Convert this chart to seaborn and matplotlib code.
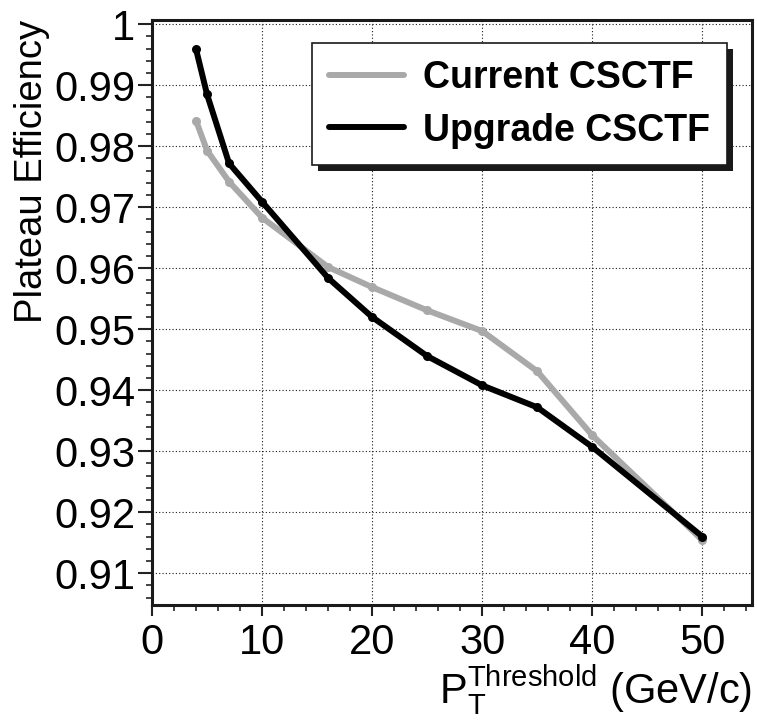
import pandas as pd
import numpy as np
import matplotlib.pyplot as plt
import matplotlib.ticker as mticker
from matplotlib.lines import Line2D
from matplotlib.patches import Rectangle
import seaborn as sns

# pT thresholds (GeV/c) and plateau efficiencies
pt_threshold = [4, 5, 7, 10, 16, 20, 25, 30, 35, 40, 50]
current_eff = [0.9842, 0.9793, 0.9742, 0.9683, 0.9602, 0.9569, 0.9531, 0.9497, 0.9431, 0.9326, 0.9154]
upgrade_eff = [0.9959, 0.9885, 0.9772, 0.9709, 0.9584, 0.9520, 0.9456, 0.9408, 0.9372, 0.9307, 0.9160]
series_names = ['Current CSCTF', 'Upgrade CSCTF']
series_colors = ['#a9a9a9', '#000000']

df = pd.DataFrame({
    'pt': pt_threshold * 2,
    'eff': current_eff + upgrade_eff,
    'algo': [series_names[0]] * len(pt_threshold) + [series_names[1]] * len(pt_threshold),
})

sns.set_theme(style='ticks')
plt.rcParams['font.family'] = ['Liberation Sans', 'DejaVu Sans']
plt.rcParams['mathtext.default'] = 'regular'
plt.rcParams['text.color'] = 'black'
plt.rcParams['axes.labelcolor'] = 'black'

fig = plt.figure(figsize=(7.57, 7.2), dpi=100)
ax = fig.add_axes([0.2008, 0.1597, 0.7926, 0.8125])

sns.lineplot(data=df, x='pt', y='eff', hue='algo', hue_order=series_names,
             palette=dict(zip(series_names, series_colors)),
             marker='o', markersize=6.5, markeredgewidth=0, linewidth=4.3,
             legend=False, ax=ax)

ax.set_xlim(0, 54.5)
ax.set_ylim(0.9048, 1.0007)

ax.xaxis.set_major_locator(mticker.MultipleLocator(10))
ax.xaxis.set_minor_locator(mticker.MultipleLocator(2))
ax.yaxis.set_major_locator(mticker.MultipleLocator(0.01))
ax.yaxis.set_minor_locator(mticker.MultipleLocator(0.002))
ax.yaxis.set_major_formatter(mticker.FuncFormatter(lambda v, p: '%g' % round(v, 3)))

ax.tick_params(axis='both', which='major', width=1.5, direction='out',
               labelsize=30, color='#222222', labelcolor='black')
ax.tick_params(axis='x', which='major', length=8, pad=5)
ax.tick_params(axis='y', which='major', length=10, pad=2)
ax.tick_params(axis='both', which='minor', length=4.5, width=1.2, direction='out', color='#222222')

ax.grid(True, which='major', color='k', linestyle=(0, (1, 2)), linewidth=0.8)
for s in ax.spines.values():
    s.set_visible(True)
    s.set_linewidth(2.2)
    s.set_color('k')

ax.set_ylabel('Plateau Efficiency', fontsize=27.5, loc='top')
ax.yaxis.set_label_coords(-0.17, 1.0)
ax.set_xlabel(r'$\mathregular{P_{T}^{Threshold}}$ (GeV/c)', fontsize=30, loc='right')
ax.xaxis.set_label_coords(1.0, -0.1)

handles = [Line2D([], [], color=c, linewidth=4.3) for c in series_colors]
leg = ax.legend(handles, series_names, loc='upper right', bbox_to_anchor=(0.958, 0.961),
                borderaxespad=0, frameon=True, fancybox=False, edgecolor='k',
                prop={'weight': 'bold', 'size': 27}, handlelength=2.0, handletextpad=0.5,
                borderpad=0.45, labelspacing=0.45, framealpha=1)
leg.get_frame().set_linewidth(1.2)

# ROOT-like black drop shadow behind the legend box
fig.canvas.draw()
bb = leg.get_frame().get_window_extent().transformed(ax.transAxes.inverted())
ax.add_patch(Rectangle((bb.x0 + 6 / 600, bb.y0 - 6 / 585), bb.width, bb.height,
                       transform=ax.transAxes, facecolor='k', edgecolor='none',
                       zorder=leg.get_zorder() - 0.1, clip_on=False))

fig.savefig('out.png', dpi=100)
